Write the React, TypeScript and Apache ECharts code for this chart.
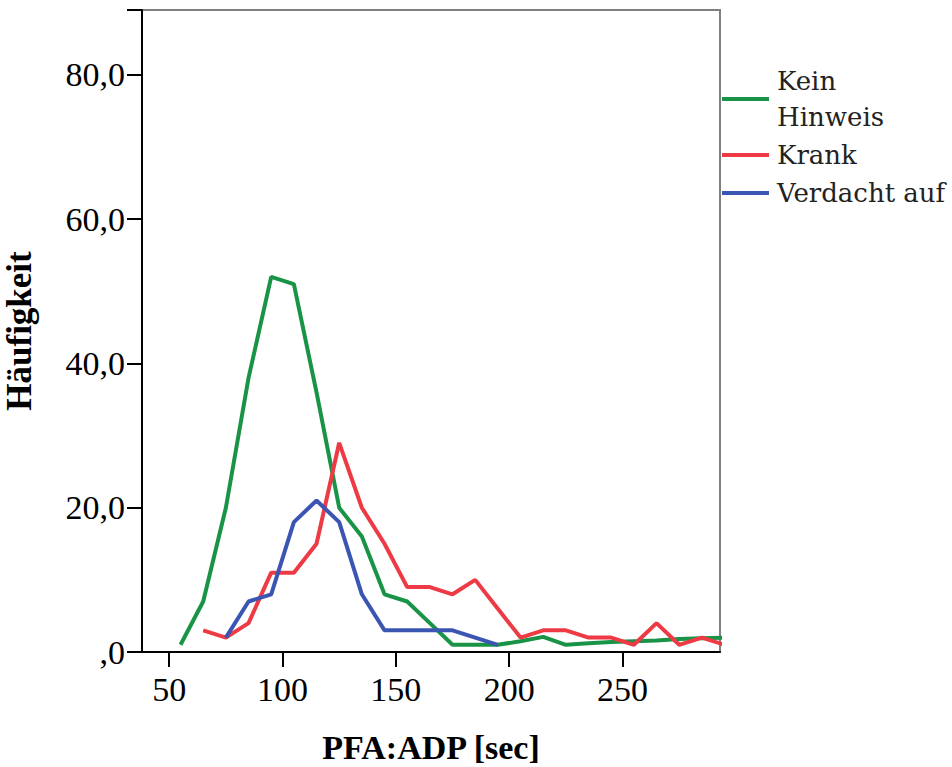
import React, { useEffect, useRef } from "react";
import * as echarts from "echarts";

// Bin centres (PFA:ADP, sec)
const binCenters = [55, 65, 75, 85, 95, 105, 115, 125, 135, 145, 155, 165, 175, 185, 195, 205, 215, 225, 235, 245, 255, 265, 275, 285, 295];

const keinHinweis = [1, 7, 20, 38, 52, 51, 36, 20, 16, 8, 7, 4, 1, 1, 1, 1.5, 2.1, 1, 1.2, 1.4, 1.5, 1.6, 1.8, 1.9, 2];
const krank = [null, 3, 2, 4, 11, 11, 15, 29, 20, 15, 9, 9, 8, 10, 6, 2, 3, 3, 2, 2, 1, 4, 1, 2, 1];
const verdachtAuf = [null, null, 2, 7, 8, 18, 21, 18, 8, 3, 3, 3, 3, 2, 1, null, null, null, null, null, null, null, null, null, null];

const seriesNames = ["Kein\nHinweis", "Krank", "Verdacht auf"];
const seriesColors = ["#199447", "#ee3a44", "#3b56b2"];
const xTicks = [50, 100, 150, 200, 250];
const yTicks = [0, 20, 40, 60, 80];

const pairs = (ys: (number | null)[]) => binCenters.map((x, i) => [x, ys[i]]);

export default function App() {
  const ref = useRef<HTMLDivElement>(null);
  useEffect(() => {
    if (!ref.current) return;
    const chart = echarts.init(ref.current, undefined, { renderer: "svg" });
    const serif = "'Liberation Serif', 'Times New Roman', serif";
    const data = [keinHinweis, krank, verdachtAuf];
    chart.setOption({
      animation: false,
      backgroundColor: "#ffffff",
      grid: {
        left: 142,
        right: 232,
        top: 10,
        bottom: 115,
        show: true,
        borderColor: "#808080",
        borderWidth: 2,
        backgroundColor: "transparent",
        outerBoundsMode: "none",
        containLabel: false,
      },
      legend: {
        orient: "vertical",
        left: 722,
        top: 63,
        padding: 0,
        itemGap: 2,
        itemWidth: 47,
        itemHeight: 4,
        icon: "rect",
        data: seriesNames,
        textStyle: {
          fontFamily: "'DejaVu Serif', serif",
          fontSize: 26,
          lineHeight: 36,
          color: "#222",
          padding: [0, 0, 0, 3],
        },
      },
      xAxis: {
        type: "value",
        min: 38,
        max: 293,
        name: "PFA:ADP [sec]",
        nameLocation: "middle",
        nameGap: 78,
        nameTextStyle: { fontFamily: serif, fontSize: 34, fontWeight: "bold", color: "#000" },
        splitLine: { show: false },
        axisLine: { show: true, onZero: false, lineStyle: { color: "#000", width: 2 } },
        axisTick: { show: true, length: 15, customValues: xTicks, lineStyle: { color: "#000", width: 2 } },
        axisLabel: {
          customValues: xTicks,
          margin: 20,
          fontFamily: serif,
          fontSize: 34,
          color: "#000",
        },
      },
      yAxis: {
        type: "value",
        min: 0,
        max: 89,
        interval: 20,
        name: "Häufigkeit",
        nameLocation: "middle",
        nameGap: 105,
        nameRotate: 90,
        nameTextStyle: { fontFamily: serif, fontSize: 35, fontWeight: "bold", color: "#000" },
        splitLine: { show: false },
        axisLine: { show: true, lineStyle: { color: "#000", width: 2 } },
        axisTick: { show: true, length: 15, lineStyle: { color: "#000", width: 2 } },
        axisLabel: {
          margin: 17,
          fontFamily: serif,
          fontSize: 34,
          color: "#000",
          formatter: (v: number) => (yTicks.includes(v) ? (v === 0 ? ",0" : v.toFixed(1).replace(".", ",")) : ""),
        },
      },
      series: seriesNames.map((name, i) => ({
        name,
        type: "line",
        data: pairs(data[i]),
        showSymbol: false,
        symbol: "none",
        connectNulls: false,
        lineStyle: { color: seriesColors[i], width: 4 },
        itemStyle: { color: seriesColors[i] },
        clip: true,
      })),
    });
    return () => chart.dispose();
  }, []);
  return (
    <div
      ref={ref}
      style={{ position: "fixed", left: 0, top: 0, width: 952, height: 767, background: "#fff" }}
    />
  );
}
